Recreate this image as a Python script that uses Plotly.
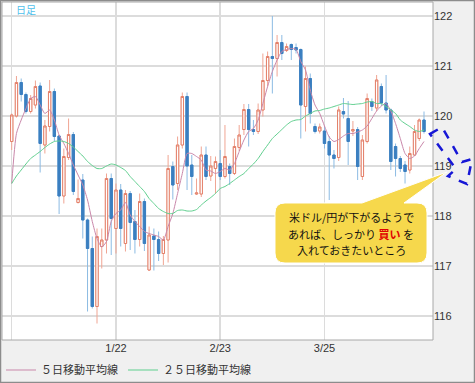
import plotly.graph_objects as go

# ---------------- data ----------------
tick_index = [0, 22, 44, 66]
tick_labels = ["", "1/22", "2/23", "3/25"]

opens = [119.49, 120.0, 120.67, 120.43, 120.09, 120.22, 120.6, 119.42, 119.79, 120.49,
         119.6, 118.4, 119.17, 119.63, 118.27, 118.72, 117.92, 117.35, 116.19, 117.39,
         117.52, 118.75, 117.75, 118.52, 117.45, 118.45, 117.89, 117.53, 118.29, 116.92,
         117.6, 117.53, 117.25, 117.52, 118.99, 118.65, 119.42, 120.39, 119.02, 118.44,
         118.44, 119.22, 118.8, 118.95, 119.05, 118.79, 118.99, 118.85, 119.37, 119.73,
         120.13, 119.73, 119.69, 120.12, 120.71, 121.19, 121.15, 121.47, 121.31, 121.43,
         121.37, 121.33, 120.19, 120.75, 119.79, 119.7, 119.7, 119.49, 119.22, 119.17,
         120.09, 119.95, 119.7, 119.73, 118.79, 119.49, 120.29, 120.16, 120.59, 120.26,
         120.12, 119.39, 119.15, 119.02, 118.92, 119.22, 119.55, 119.92]
highs = [120.05, 120.8, 120.75, 120.47, 120.42, 120.71, 120.67, 119.92, 120.72, 120.55,
         119.62, 119.35, 119.95, 119.68, 118.73, 118.84, 117.95, 117.59, 117.75, 117.75,
         118.85, 118.85, 118.65, 118.64, 118.52, 118.5, 118.12, 118.45, 118.35, 117.79,
         117.75, 117.69, 117.6, 119.22, 119.09, 119.59, 120.47, 120.47, 119.22, 118.75,
         119.39, 119.39, 119.2, 119.19, 119.32, 119.82, 119.05, 119.55, 119.82, 120.24,
         120.24, 119.92, 120.25, 121.25, 121.29, 122.0, 121.62, 121.62, 121.45, 121.45,
         121.45, 121.35, 120.99, 120.85, 119.85, 119.85, 119.8, 119.6, 119.32, 120.19,
         120.36, 120.3, 119.9, 119.78, 119.62, 120.45, 120.35, 120.82, 120.65, 120.82,
         120.15, 119.45, 119.2, 119.1, 119.39, 119.82, 119.95, 120.09]
lows = [119.32, 119.97, 120.29, 120.05, 120.05, 120.15, 118.87, 119.25, 119.69, 119.5,
        118.04, 118.25, 119.12, 118.42, 118.25, 117.55, 116.09, 116.15, 115.85, 116.95,
        117.25, 117.22, 117.25, 117.39, 117.29, 117.32, 117.25, 117.39, 117.3, 116.9,
        116.91, 117.1, 117.02, 117.07, 118.33, 118.52, 119.35, 118.52, 118.42, 118.42,
        118.38, 118.72, 118.7, 118.45, 118.72, 118.75, 118.62, 118.82, 119.3, 119.62,
        119.39, 119.62, 119.64, 119.99, 120.59, 120.45, 120.79, 121.12, 121.28, 121.12,
        121.25, 119.55, 119.69, 119.85, 119.65, 119.65, 119.35, 118.32, 118.95, 119.1,
        119.95, 119.02, 119.6, 118.72, 118.72, 119.45, 120.1, 120.1, 120.2, 120.05,
        118.92, 118.79, 118.88, 118.65, 118.85, 119.2, 119.5, 119.65]
closes = [120.02, 120.67, 120.43, 120.09, 120.35, 120.59, 119.45, 119.8, 120.49, 119.59,
          118.4, 119.19, 119.63, 118.49, 118.35, 117.92, 117.35, 116.19, 117.59, 117.52,
          118.75, 117.95, 118.52, 117.75, 118.45, 117.87, 117.53, 118.29, 117.45, 117.62,
          117.53, 117.25, 117.53, 118.95, 118.62, 119.42, 120.39, 119.0, 118.79, 118.46,
          119.22, 118.79, 119.0, 119.09, 118.79, 119.19, 118.85, 119.39, 119.62, 120.13,
          119.73, 119.69, 120.12, 120.71, 121.19, 121.15, 121.47, 121.25, 121.39, 121.33,
          121.32, 120.22, 120.75, 120.05, 119.69, 119.78, 119.45, 119.22, 119.15, 120.12,
          120.04, 119.49, 119.73, 118.99, 119.52, 120.35, 120.19, 120.72, 120.26, 120.12,
          119.09, 119.15, 118.95, 118.89, 119.25, 119.69, 119.92, 119.69]

ma5 = [118.65, 119.65, 119.92, 120.15, 120.35, 120.39, 120.22, 120.05, 120.12, 119.92,
       119.62, 119.45, 119.25, 119.02, 118.82, 118.62, 118.32, 117.89, 117.55, 117.38,
       117.49, 117.89, 118.05, 118.12, 118.27, 118.02, 117.89, 117.79, 117.69, 117.65,
       117.62, 117.59, 117.52, 117.79, 118.05, 118.45, 118.85, 119.25, 119.25, 119.19,
       119.12, 118.92, 118.9, 118.85, 118.89, 118.95, 118.92, 119.05, 119.29, 119.52,
       119.69, 119.75, 119.92, 120.25, 120.59, 120.89, 121.12, 121.29, 121.33, 121.35,
       121.33, 121.09, 120.92, 120.52, 120.22, 120.05, 119.8, 119.58, 119.49, 119.53,
       119.6, 119.65, 119.65, 119.68, 119.72, 119.8, 119.95, 120.1, 120.2, 120.25,
       120.1, 119.85, 119.55, 119.25, 119.15, 119.2, 119.35, 119.49]
ma25 = [118.65, 118.8, 118.92, 119.04, 119.15, 119.22, 119.29, 119.37, 119.44, 119.49,
        119.5, 119.49, 119.45, 119.38, 119.29, 119.2, 119.09, 119.01, 118.95, 118.95,
        119.0, 119.04, 119.02, 118.97, 118.91, 118.79, 118.69, 118.59, 118.49, 118.35,
        118.25, 118.15, 118.09, 118.05, 118.05, 118.11, 118.12, 118.1, 118.1, 118.13,
        118.22, 118.3, 118.37, 118.45, 118.55, 118.59, 118.65, 118.72, 118.79, 118.85,
        118.95, 119.04, 119.15, 119.29, 119.42, 119.55, 119.64, 119.73, 119.82, 119.89,
        119.92, 119.93, 120.0, 120.05, 120.1, 120.11, 120.14, 120.16, 120.19, 120.22,
        120.25, 120.24, 120.23, 120.24, 120.25, 120.28, 120.29, 120.25, 120.25, 120.19,
        120.12, 120.05, 119.92, 119.85, 119.79, 119.72, 119.69, 119.72]

ma5_name = "５日移動平均線"
ma25_name = "２５日移動平均線"
callout_lines = ["米ドル/円が下がるようで",
                 "あれば、しっかり <span style='color:#e00000'><b>買い</b></span> を",
                 "入れておきたいところ"]
x = list(range(len(closes)))

# ---------------- style ----------------
W, H = 475, 383
L, R, T, B = 2, 42, 2, 43
PW, PH = W - L - R, H - T - B

def fx(px):
    return (px - L) / PW

def fy(py):
    return 1 - (py - T) / PH

UP_DARK = "#e3806a"
UP_LIGHT = "#f0a593"
DN_DARK = "#3b7fc0"
DN_LIGHT = "#8cbbe3"

body_hi = [max(o, c) for o, c in zip(opens, closes)]
body_lo = [min(o, c) for o, c in zip(opens, closes)]

fig = go.Figure()
# wicks (light colours)
fig.add_trace(go.Candlestick(
    x=x, open=opens, high=highs, low=lows, close=closes,
    increasing=dict(line=dict(color=UP_LIGHT, width=1), fillcolor="white"),
    decreasing=dict(line=dict(color=DN_LIGHT, width=1), fillcolor=DN_LIGHT),
    showlegend=False, hoverinfo="skip"))
# bodies (dark colours)
fig.add_trace(go.Candlestick(
    x=x, open=opens, high=body_hi, low=body_lo, close=closes,
    increasing=dict(line=dict(color=UP_DARK, width=1), fillcolor="white"),
    decreasing=dict(line=dict(color=DN_DARK, width=1), fillcolor=DN_DARK),
    showlegend=False, hoverinfo="skip"))
fig.add_trace(go.Scatter(x=x, y=ma5, mode="lines", name=ma5_name,
                         line=dict(color="#c987aa", width=1, shape="spline", smoothing=0.6)))
fig.add_trace(go.Scatter(x=x, y=ma25, mode="lines", name=ma25_name,
                         line=dict(color="#5fcf8e", width=1, shape="spline", smoothing=0.6)))

axis_font = dict(family="Liberation Sans, Arial, sans-serif", size=11, color="#333333")

fig.update_layout(
    width=W, height=H,
    margin=dict(l=L, r=R, t=T, b=B, pad=0, autoexpand=False),
    paper_bgcolor="#f0f0f0",
    plot_bgcolor="white",
    xaxis=dict(range=[-2.05, 88.9], tickvals=tick_index, ticktext=tick_labels,
               showgrid=True, gridcolor="#dcdcdc", gridwidth=1.5, zeroline=False,
               rangeslider=dict(visible=False), ticks="", tickfont=axis_font,
               showline=False, fixedrange=True, automargin=False),
    yaxis=dict(range=[115.52, 122.28], side="right", tickvals=[116, 117, 118, 119, 120, 121, 122],
               showgrid=True, gridcolor="#dcdcdc", gridwidth=1.5, zeroline=False,
               ticks="", tickfont=axis_font, showline=False, fixedrange=True, automargin=False),
    showlegend=True,
    legend=dict(orientation="h", x=fx(1), xanchor="left", y=fy(370), yanchor="middle",
                bgcolor="rgba(0,0,0,0)", font=dict(family="Noto Sans CJK JP", size=11, color="#333333"),
                itemwidth=30, tracegroupgap=0),
    font=dict(family="Noto Sans CJK JP"),
    hovermode=False,
)

# callout (box + pointer)
bx0, by0, bx1, by1, r = 275, 203, 427, 263, 10
pb0, pb1, tipx, tipy = 362, 404, 447, 172

def P(px, py):
    return f"{fx(px):.5f},{fy(py):.5f}"

callout = (f"M{P(bx0 + r, by0)} L{P(pb0, by0)} L{P(tipx, tipy)} L{P(pb1, by0)} "
           f"L{P(bx1 - r, by0)} Q{P(bx1, by0)} {P(bx1, by0 + r)} "
           f"L{P(bx1, by1 - r)} Q{P(bx1, by1)} {P(bx1 - r, by1)} "
           f"L{P(bx0 + r, by1)} Q{P(bx0, by1)} {P(bx0, by1 - r)} "
           f"L{P(bx0, by0 + r)} Q{P(bx0, by0)} {P(bx0 + r, by0)} Z")

arrow = (f"M{P(430, 134)} L{P(442, 127)} L{P(462, 162)} L{P(472, 159)} "
         f"L{P(467, 184)} L{P(448, 176)} L{P(456, 169)} Z")

shapes = [
    dict(type="rect", xref="paper", yref="paper", x0=0, y0=0, x1=1, y1=1,
         line=dict(color="#a8a8a8", width=1), layer="above"),
    dict(type="rect", xref="paper", yref="paper", x0=fx(0.5), y0=fy(382.5), x1=fx(474.5), y1=fy(0.5),
         line=dict(color="#8c8c8c", width=1.5), layer="above"),
    dict(type="path", xref="paper", yref="paper", path=callout,
         fillcolor="#f6d84c", line=dict(color="white", width=1), layer="above"),
    dict(type="path", xref="paper", yref="paper", path=arrow,
         line=dict(color="#1717d6", width=2.5, dash="dash"), layer="above"),
]
fig.update_layout(shapes=shapes)

annotations = [
    dict(text="日足", xref="paper", yref="paper", x=fx(14), y=fy(9.5), xanchor="left", yanchor="middle",
         showarrow=False, font=dict(family="Noto Sans CJK JP", size=10, color="#4fc0ec")),
]
for line_text, ly in zip(callout_lines, [217, 233.5, 249.5]):
    annotations.append(dict(text=line_text, xref="paper", yref="paper", x=fx(351), y=fy(ly),
                            xanchor="center", yanchor="middle", showarrow=False,
                            font=dict(family="Noto Sans CJK JP", size=11, color="#111111")))
fig.update_layout(annotations=annotations)

fig.write_html("out.html", config={"displayModeBar": False, "staticPlot": True},
               post_script="document.body.style.margin='0';")
